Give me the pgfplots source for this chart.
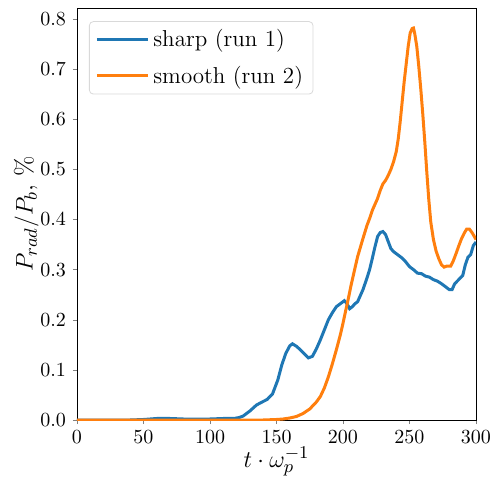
\documentclass[border=0pt]{standalone}
\usepackage{pgfplots}
\pgfplotsset{compat=1.18}

\definecolor{tabblue}{HTML}{1F77B4}
\definecolor{taborange}{HTML}{FF7F0E}

\begin{document}
\begin{tikzpicture}
  \begin{axis}[
    scale only axis,
    width=199.5pt, height=206pt,
    xmin=0, xmax=300,
    ymin=0, ymax=0.822,
    xtick={0,50,...,300},
    ytick={0,0.1,...,0.8},
    yticklabel style={/pgf/number format/.cd, fixed, fixed zerofill, precision=1},
    tick align=outside,
    tick pos=left,
    major tick length=2pt,
    tick label style={font=\fontsize{10.3}{12}\selectfont},
    label style={font=\fontsize{12.5}{15}\selectfont},
    xlabel={$t \cdot \omega_p^{-1}$},
    ylabel={$P_{rad}/P_b$, \%},
    xlabel style={yshift=5.5pt},
    ylabel style={yshift=-6pt},
    legend style={font=\fontsize{11.5}{14}\selectfont, draw=black!15, rounded corners=2pt,
      at={(0.03,0.968)}, anchor=north west, inner xsep=3pt, inner ysep=2pt, row sep=4pt,
      /tikz/every even column/.append style={column sep=8pt}},
    legend cell align=left,
    legend image code/.code={\draw[#1] (0pt,0pt) -- (25.5pt,0pt);},
  ]
    \addplot[tabblue, line width=1.5pt] coordinates {
      (0,0) (40,0) (50,0.001) (60,0.003) (70,0.003) (80,0.002) (90,0.002)
      (100,0.002) (110,0.003) (118,0.003) (122,0.005) (125,0.008) (130,0.018)
      (135,0.03) (140,0.037) (143,0.041) (147,0.052) (151,0.08) (154,0.11)
      (157,0.133) (160,0.148) (162,0.152) (165,0.147) (168,0.14) (171,0.132)
      (174,0.124) (177,0.127) (180,0.142) (183,0.16) (186,0.18) (189,0.2)
      (192,0.214) (195,0.226) (198,0.232) (201,0.238) (203,0.232) (205,0.222)
      (207,0.226) (209,0.232) (211,0.236) (213,0.248) (215,0.26) (218,0.283)
      (220,0.3) (222,0.322) (224,0.345) (226,0.366) (228,0.374) (230,0.376)
      (232,0.37) (234,0.356) (236,0.342) (238,0.336) (241,0.33) (244,0.324)
      (247,0.316) (250,0.306) (253,0.3) (256,0.293) (259,0.292) (262,0.287)
      (265,0.285) (268,0.28) (271,0.277) (274,0.272) (277,0.266) (280,0.26)
      (282,0.26) (284,0.272) (287,0.28) (290,0.288) (292,0.31) (294,0.325)
      (296,0.33) (298,0.348) (300,0.355)
    };
    \addlegendentry{sharp (run 1)}
    \addplot[taborange, line width=1.5pt] coordinates {
      (0,0) (140,0) (150,0.001) (155,0.002) (160,0.004) (165,0.007) (170,0.013)
      (175,0.022) (180,0.036) (183,0.047) (186,0.064) (189,0.086) (192,0.112)
      (195,0.14) (198,0.17) (200,0.193) (202,0.218) (204,0.242) (206,0.268)
      (209,0.303) (211,0.326) (213,0.344) (215,0.362) (218,0.388) (220,0.402)
      (222,0.418) (224,0.43) (226,0.442) (228,0.458) (230,0.471) (232,0.478)
      (234,0.488) (236,0.5) (238,0.515) (240,0.535) (241.5,0.56) (243,0.595)
      (244.5,0.635) (246,0.675) (247.5,0.71) (249,0.745) (250.5,0.772)
      (252,0.781) (253,0.782) (254,0.77) (255.5,0.745) (257,0.705) (258.5,0.66)
      (260,0.61) (261.5,0.555) (263,0.495) (264.5,0.44) (266,0.395) (268,0.36)
      (270,0.337) (272,0.322) (274,0.31) (276,0.305) (278,0.307) (281,0.307)
      (283,0.318) (285,0.332) (287,0.347) (289,0.361) (291,0.372) (293,0.381)
      (295,0.381) (297,0.374) (299,0.365) (300,0.36)
    };
    \addlegendentry{smooth (run 2)}
  \end{axis}
  \pgfresetboundingbox
  \path[use as bounding box] (-38.5pt,-28.5pt) rectangle (210.5pt,210pt);
\end{tikzpicture}
\end{document}
